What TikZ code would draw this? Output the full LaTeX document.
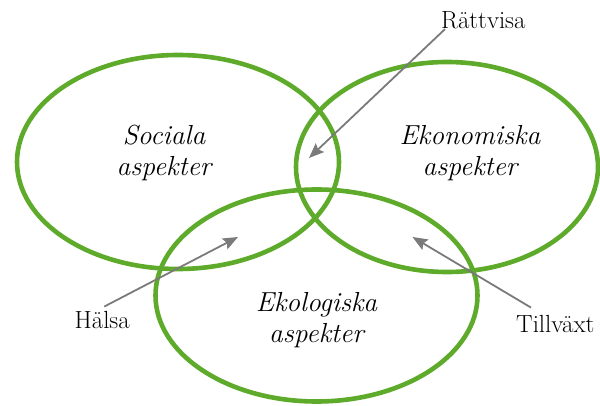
\documentclass[tikz,border=0pt]{standalone}
\usetikzlibrary{arrows.meta}
\definecolor{aspektgron}{RGB}{94,170,42}
\definecolor{pilgra}{RGB}{122,122,122}
\begin{document}
\begin{tikzpicture}[x=1pt,y=-1pt,
    ring/.style={draw=aspektgron,line width=4.6pt},
    aspekt/.style={align=center,inner sep=0pt,font=\fontsize{27.5}{30.5}\selectfont\itshape},
    etikett/.style={inner sep=0pt,anchor=base west,font=\fontsize{24.8}{28}\selectfont},
    pil/.style={draw=pilgra,line width=1.8pt,-{Stealth[length=15pt,width=12pt,inset=2.5pt]}}]
\useasboundingbox (0,0) rectangle (600,406);

% Drawing ellipse sociala
\draw [ring] (178,162) ellipse [x radius=161,y radius=107];

% Drawing ellipse ekonomiska
\draw [ring] (447,167) ellipse [x radius=151,y radius=105];

% Drawing ellipse ekologiska
\draw [ring] (316.5,295.5) ellipse [x radius=161,y radius=106];

% Marking the three aspects
\node [aspekt] (sociala) at (164,153) {Sociala\\aspekter};
\node [aspekt] (ekonomiska) at (470,153) {Ekonomiska\\aspekter};
\node [aspekt] (ekologiska) at (316.5,320) {Ekologiska\\aspekter};

% Marking labels
\node [etikett] (rattvisa) at (441,28.5) {Rättvisa};
\node [etikett] (halsa) at (74.5,328) {Hälsa};
\node [etikett] (tillvaxt) at (516,332) {Tillväxt};

% Arrow tips
\coordinate (rattvisa spets) at (309,158);
\coordinate (halsa spets) at (238,237);
\coordinate (tillvaxt spets) at (412.5,237);

% Drawing arrows
\draw [pil] ([xshift=4pt]rattvisa.south west) -- (rattvisa spets);
\draw [pil] ([shift={(2pt,4pt)}]halsa.north) -- (halsa spets);
\draw [pil] ([shift={(15pt,7pt)}]tillvaxt.north west) -- (tillvaxt spets);
\end{tikzpicture}
\end{document}
